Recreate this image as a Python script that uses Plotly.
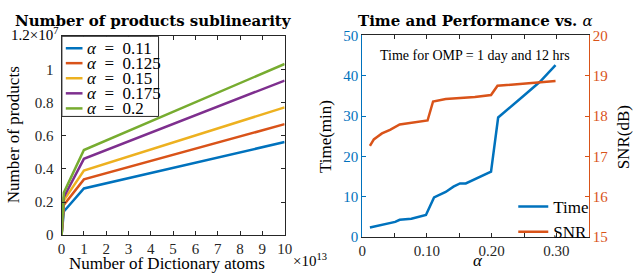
import plotly.graph_objects as go

# ---------------- data ----------------
atoms = [0, 1e12, 1e13, 1e14]
series_names = ["α = 0.11", "α = 0.125", "α = 0.15", "α = 0.175", "α = 0.2"]
products_a011 = [0, 1.43e6, 2.82e6, 5.62e6]
products_a0125 = [0, 1.83e6, 3.37e6, 6.70e6]
products_a015 = [0, 2.10e6, 3.90e6, 7.71e6]
products_a0175 = [0, 2.29e6, 4.61e6, 9.33e6]
products_a02 = [0, 2.57e6, 5.14e6, 10.33e6]
products_all = [products_a011, products_a0125, products_a015, products_a0175, products_a02]

time_alpha = [0.012, 0.051, 0.058, 0.076, 0.0985, 0.111, 0.129, 0.141, 0.151, 0.160, 0.199, 0.210, 0.249, 0.2745, 0.2986]
time_min = [2.36, 3.77, 4.3, 4.55, 5.5, 9.85, 11.2, 12.5, 13.3, 13.3, 16.25, 29.65, 34.96, 38.5, 42.6]
snr_alpha = [0.012, 0.018, 0.023, 0.0306, 0.043, 0.058, 0.101, 0.1095, 0.129, 0.174, 0.199, 0.209, 0.2986]
snr_db = [17.26, 17.42, 17.48, 17.57, 17.66, 17.79, 17.89, 18.36, 18.42, 18.47, 18.52, 18.75, 18.87]

x_tickvals = [i * 1e13 for i in range(11)]
x_ticktext = [str(i) for i in range(11)]
y_tickvals = [0, 2e6, 4e6, 6e6, 8e6, 10e6, 12e6]
y_ticktext = ["0", "0.2", "0.4", "0.6", "0.8", "1", ""]
a_tickvals = [0, 0.05, 0.10, 0.15, 0.20, 0.25, 0.30, 0.35]
a_ticktext = ["0", "", "0.10", "", "0.20", "", "0.30", ""]

# ---------------- style ----------------
colors = ["#0072BD", "#D95319", "#EDB120", "#7E2F8E", "#77AC30"]
BLUE, ORANGE = "#0072BD", "#D95319"
AX = "#262626"
FONT = "Liberation Serif"
TFONT = "DejaVu Serif"
W, H = 640, 280

def px(x):
    return x / W

def py(y):
    return 1 - y / H

fig = go.Figure()

for name, vals, c in zip(series_names, products_all, colors):
    fig.add_trace(go.Scatter(x=atoms, y=vals, mode="lines", name=name,
                             line=dict(color=c, width=2.5), showlegend=False,
                             xaxis="x", yaxis="y"))

fig.add_trace(go.Scatter(x=time_alpha, y=time_min, mode="lines", name="Time",
                         line=dict(color=BLUE, width=2.5),
                         xaxis="x2", yaxis="y2", legend="legend2"))
fig.add_trace(go.Scatter(x=snr_alpha, y=snr_db, mode="lines", name="SNR",
                         line=dict(color=ORANGE, width=2.5),
                         xaxis="x2", yaxis="y3", legend="legend2"))

common_tick = dict(ticks="inside", ticklen=4, tickwidth=1, showgrid=False,
                   zeroline=False, showline=True, linewidth=1)

fig.update_layout(
    width=W, height=H,
    margin=dict(l=0, r=0, t=0, b=0),
    paper_bgcolor="white", plot_bgcolor="white",
    font=dict(family=FONT, size=15, color=AX),
    xaxis=dict(domain=[px(58.7), px(286)], range=[0, 1e14],
               tickvals=x_tickvals, ticktext=x_ticktext, mirror="ticks",
               linecolor=AX, tickcolor=AX, anchor="y", **common_tick),
    yaxis=dict(domain=[py(241), py(30)], range=[0, 1.2e7],
               tickvals=y_tickvals, ticktext=y_ticktext, mirror="ticks",
               linecolor=AX, tickcolor=AX, anchor="x", ticklabelstandoff=4,
               **common_tick),
    xaxis2=dict(domain=[px(365), px(596)], range=[0, 0.35],
                tickvals=a_tickvals, ticktext=a_ticktext, mirror="ticks",
                linecolor=AX, tickcolor=AX, anchor="y2", **common_tick),
    yaxis2=dict(domain=[py(243), py(29)], range=[0, 50], dtick=10,
                linecolor=BLUE, tickcolor=BLUE, tickfont=dict(color=BLUE),
                anchor="x2", side="left", **common_tick),
    yaxis3=dict(range=[15, 20], dtick=1, overlaying="y2", side="right",
                linecolor=ORANGE, tickcolor=ORANGE, tickfont=dict(color=ORANGE),
                anchor="x2", **common_tick),
    legend2=dict(x=px(519), y=py(192), xanchor="left", yanchor="top",
                 borderwidth=0, bgcolor="rgba(0,0,0,0)",
                 font=dict(family=FONT, size=17, color="black"),
                 tracegroupgap=0, itemwidth=30),
    showlegend=True,
)

# manual legend for the left panel (box, line samples, labels)
fig.add_shape(type="rect", xref="paper", yref="paper",
              x0=px(59), x1=px(157.5), y0=py(115), y1=py(30),
              line=dict(color=AX, width=1), fillcolor="white", layer="above")
leg_y = [42.7, 58.5, 74.5, 90.5, 106.5]
for name, c, yy in zip(series_names, colors, leg_y):
    sym, val = name.split(" = ")
    fig.add_shape(type="line", xref="paper", yref="paper",
                  x0=px(63), x1=px(80), y0=py(yy), y1=py(yy),
                  line=dict(color=c, width=2.5), layer="above")
    fig.add_annotation(text="<i>" + sym + "</i>\u00a0\u00a0=\u00a0\u00a0" + val,
                       x=px(82.5), y=py(yy),
                       xref="paper", yref="paper", showarrow=False,
                       xanchor="left", yanchor="middle",
                       font=dict(family=FONT, size=17, color="black"))

ann = [
    dict(text="<b>Number of products sublinearity</b>", x=px(152), y=py(14),
         font=dict(family=TFONT, size=15, color="black")),
    dict(text="<b>Time and Performance vs. </b><i>α</i>", x=px(480), y=py(14),
         font=dict(family=TFONT, size=15, color="black")),
    dict(text="Number of products", x=px(10), y=py(134), textangle=-90,
         font=dict(size=17, color="black")),
    dict(text="Number of Dictionary atoms", x=px(166), y=py(270.5),
         font=dict(size=17, color="black")),
    dict(text="×10<sup>13</sup>", x=px(312), y=py(267),
         font=dict(size=15, color="black")),
    dict(text="1.2×10<sup>7</sup>", x=px(57), y=py(28), xanchor="right",
         font=dict(size=15, color="black")),
    dict(text="Time(min)", x=px(327), y=py(136), textangle=-90,
         font=dict(size=17, color="black")),
    dict(text="SNR(dB)", x=px(631), y=py(137), textangle=-90,
         font=dict(size=17, color="black")),
    dict(text="<i>α</i>", x=px(483), y=py(268),
         font=dict(size=17, color="black")),
    dict(text="Time for OMP = 1 day and 12 hrs", x=px(480), y=py(50),
         font=dict(size=14, color="black")),
]
for a in ann:
    a.setdefault("xanchor", "center")
    a.update(xref="paper", yref="paper", showarrow=False, yanchor="middle")
    fig.add_annotation(**a)

fig.write_html("out.html", config={"displayModeBar": False},
               post_script="document.body.style.margin='0';document.body.style.overflow='hidden';")
